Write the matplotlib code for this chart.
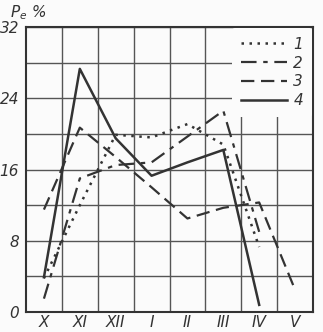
import matplotlib
matplotlib.use("Agg")
import matplotlib.pyplot as plt
import numpy as np

plt.rcParams['font.family'] = ['Liberation Sans Narrow', 'DejaVu Sans']
plt.rcParams['font.style'] = 'italic'
plt.rcParams['mathtext.fontset'] = 'custom'
plt.rcParams['mathtext.it'] = 'DejaVu Sans:italic'
plt.rcParams['mathtext.rm'] = 'DejaVu Sans:italic'

# months (October .. May)
months = ['X', 'XI', 'XII', 'I', 'II', 'III', 'IV', 'V']

# P_e values, %
curve1 = [3.8, 12.0, 19.9, 19.6, 21.1, 18.8, 7.3]
curve2 = [1.5, 15.0, 16.5, 16.8, 19.7, 22.6, 9.0]
curve3 = [11.5, 20.7, 17.4, 14.0, 10.5, 11.7, 12.3, 2.5]
curve4 = [3.9, 27.3, 19.5, 15.3, 16.8, 18.2, 0.8]

series = [
    (curve1, '1', (0, (1, 2.2)), 1.8),
    (curve2, '2', (0, (7, 3, 2, 3)), 1.6),
    (curve3, '3', (0, (6, 3)), 1.6),
    (curve4, '4', '-', 1.8),
]

fig = plt.figure(figsize=(3.23, 3.32), dpi=100)
fig.patch.set_facecolor('#fbfbfb')
ax = fig.add_axes([26 / 323, 1 - 312 / 332, 287 / 323, 285 / 332])
ax.set_facecolor('#fbfbfb')

xc = np.arange(len(months)) + 0.5
for vals, lab, ls, lw in series:
    ax.plot(xc[:len(vals)], vals, color='#333333', linestyle=ls, linewidth=lw,
            label=lab, zorder=3)

ax.set_xlim(0, 8)
ax.set_ylim(0, 32)

ax.set_xticks(xc)
ax.set_xticklabels(months)
ax.set_xticks(np.arange(1, 8), minor=True)
ax.set_yticks(np.arange(0, 33, 4))
ax.set_yticklabels([str(v) if v % 8 == 0 else '' for v in range(0, 33, 4)])
ax.tick_params(which='both', length=0, labelsize=11, colors='#333333')
ax.tick_params(axis='x', pad=2)
ax.tick_params(axis='y', pad=5)

ax.grid(True, which='minor', axis='x', color='#555555', linewidth=1.0, zorder=1)
ax.grid(True, which='major', axis='y', color='#555555', linewidth=1.0, zorder=1)
for s in ax.spines.values():
    s.set_color('#333333')
    s.set_linewidth(1.5)

leg = ax.legend(loc='upper right', bbox_to_anchor=(0.995, 0.995), frameon=True,
                fontsize=11, handlelength=3.0, handletextpad=0.45,
                labelspacing=0.25, borderpad=0.55, borderaxespad=0.0,
                facecolor='#fbfbfb', edgecolor='none', framealpha=1.0)
leg.set_zorder(5)
for t in leg.get_texts():
    t.set_color('#333333')

fig.text(10 / 323, 1 - 13 / 332, r'$P_{e}$ %', fontsize=11, color='#333333',
         va='center', ha='left')

fig.savefig('out.png', dpi=100, facecolor=fig.get_facecolor())
